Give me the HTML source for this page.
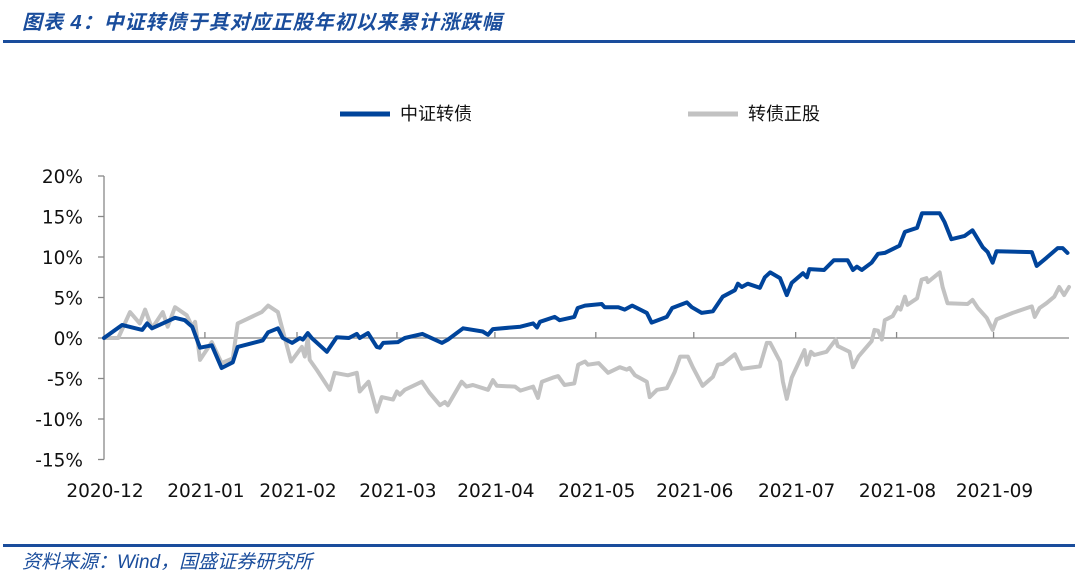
<!DOCTYPE html>
<html><head><meta charset="utf-8">
<style>
html,body{margin:0;padding:0;background:#fff;}
body{width:1080px;height:575px;position:relative;overflow:hidden;font-family:"Liberation Sans","Noto Sans CJK SC",sans-serif;}
#title{position:absolute;left:22px;top:6px;font-size:20px;font-weight:bold;font-style:italic;color:#1a4d9c;letter-spacing:1px;}
#topline{position:absolute;left:3px;top:40px;width:1072px;height:3px;background:#1a4d9c;}
#botline{position:absolute;left:3px;top:544px;width:1072px;height:3px;background:#1a4d9c;}
#source{position:absolute;left:22px;top:547px;font-size:19px;font-style:italic;color:#1a4d9c;}
svg{position:absolute;left:0;top:0;}
</style></head><body>
<div id="title">图表 4：中证转债于其对应正股年初以来累计涨跌幅</div>
<div id="topline"></div>
<svg id="chart" width="1080" height="575"></svg>
<div id="botline"></div>
<div id="source">资料来源：Wind，国盛证券研究所</div>
<script>
const monthLabels=["2020-12","2021-01","2021-02","2021-03","2021-04","2021-05","2021-06","2021-07","2021-08","2021-09"];
const monthDays=[0,20.6,39.4,59.8,79.8,100.4,120.4,141.2,161.8,181.6];
const yTicks=[20,15,10,5,0,-5,-10,-15];
const seriesNames=["中证转债","转债正股"];
const cbDays=[0,3.7,7.8,8.8,9.8,14.5,16.5,18,19.6,22,24,26.3,27.3,32.4,33.5,35.5,36.5,38.4,40,40.6,41.6,42.4,45.5,47.5,50,51.6,52.2,53.9,55.7,56.3,57,60,61.4,65,69,70.2,73.3,77.3,78.4,79.4,85,87.6,88.4,89,92,93,96,96.7,98.2,101.6,102.2,105,106.3,107.8,110.8,111.8,114.9,116,119,120,122,124.3,126.3,128.8,129.4,130.2,131.4,133.9,134.9,136,138,139.4,140.4,142.7,143.5,144,147,149,151.8,152.9,153.7,154.7,156.7,158,159.4,162.4,163.5,166,167,170.6,171.6,173,175.7,177.3,179.4,180.4,181.4,182.2,189.4,190.4,192.4,194.7,195.7,196.7];
const cbVals=[0,1.6,1.0,1.8,1.2,2.5,2.2,1.4,-1.2,-0.9,-3.7,-3.0,-1.1,-0.3,0.7,1.2,0,-0.6,0,-0.2,0.6,0,-1.7,0.1,0,0.5,0,0.6,-1.1,-1.2,-0.6,-0.5,0,0.5,-0.6,-0.2,1.2,0.8,0.4,1.1,1.4,1.8,1.3,2.0,2.6,2.2,2.6,3.7,4.0,4.2,3.8,3.8,3.5,4.0,3.1,1.9,2.6,3.7,4.4,3.8,3.1,3.3,5.1,5.9,6.7,6.3,6.7,6.2,7.5,8.1,7.4,5.3,6.8,8.0,7.5,8.5,8.4,9.6,9.6,8.4,8.8,8.4,9.3,10.4,10.5,11.4,13.1,13.6,15.4,15.4,14.3,12.2,12.6,13.3,11.2,10.6,9.3,10.7,10.6,8.9,9.9,11.1,11.1,10.5];
const stDays=[0,2.9,5.3,7.3,8.4,9.8,12,13,14.5,16.9,18,18.6,19.6,22,24,26.3,27.3,32.2,33.5,35.5,37,38.2,40.4,41,41.6,42,43.5,46.1,47.1,49.8,51.6,52.2,54,55.7,56.7,59,59.8,60.4,61.4,64.9,66.5,68.6,69.6,70.2,73,74,75.3,78.4,79.4,80.2,83.9,85,87.6,88.6,89.4,91.6,92.7,94,96,96.8,98.2,98.8,101,102.9,105.3,106.7,107.3,108.4,110.8,111.4,112.9,114.9,116.5,117.6,119.2,120.2,122.2,124.3,125.3,126.3,128.8,130.2,133.9,135.3,136,138,138.6,139.4,140.4,143,143.5,144.3,145,147.5,149.4,149.8,152.2,152.9,154,156.7,157.3,158,158.8,159.4,161,162,162.6,163.5,164,166,166.9,167.9,168.2,170.6,171.2,172.2,176.3,177.3,178.4,180.2,181.4,182.2,185.5,189.4,190,191,192.4,194,195,196,197];
const stVals=[0,0,3.2,1.8,3.5,1.2,3.2,1.4,3.8,2.8,1.4,2.0,-2.7,-0.5,-3.1,-2.5,1.8,3.2,4.0,3.2,-0.2,-2.9,-1.1,-2.3,0,-2.7,-4.0,-6.4,-4.3,-4.6,-4.3,-6.6,-5.4,-9.1,-7.3,-7.6,-6.6,-7.0,-6.4,-5.4,-6.8,-8.3,-7.9,-8.3,-5.4,-6.0,-5.8,-6.4,-5.2,-5.9,-6.0,-6.5,-6.0,-7.4,-5.4,-4.9,-4.7,-5.8,-5.6,-3.3,-2.9,-3.3,-3.1,-4.3,-3.6,-3.9,-3.7,-4.6,-5.4,-7.3,-6.4,-6.2,-4.2,-2.3,-2.3,-3.6,-5.9,-4.8,-3.3,-3.2,-2.0,-3.8,-3.5,-0.6,-0.6,-2.9,-5.4,-7.5,-4.9,-1.5,-3.3,-1.7,-2.1,-1.7,-0.2,-1.0,-1.7,-3.6,-2.3,-0.4,1.0,0.9,-0.2,2.2,2.7,3.8,3.5,5.1,4.1,4.9,7.2,7.4,6.9,8.1,6.3,4.3,4.2,4.7,3.7,2.5,1.0,2.3,3.1,3.9,2.6,3.7,4.3,5.1,6.3,5.3,6.3];

const svg=document.getElementById('chart');
const NS='http://www.w3.org/2000/svg';
const X0=104,X1=1069,DMAX=197;
const Y0=338,PPU=8.1;
const TF='"DejaVu Sans","Liberation Sans","Noto Sans CJK SC",sans-serif';
function xs(d){return X0+(X1-X0)*d/DMAX;}
function ys(v){return Y0-v*PPU;}
function mk(tag,attrs){const e=document.createElementNS(NS,tag);for(const k in attrs)e.setAttribute(k,attrs[k]);svg.appendChild(e);return e;}

let ya=mk('line',{x1:X0,y1:ys(20),x2:X0,y2:ys(-15),stroke:'#888','stroke-width':1.3});


yTicks.forEach(v=>{
  const t=mk('line',{x1:X0-6,y1:ys(v),x2:X0,y2:ys(v),stroke:'#888','stroke-width':1.3});
  
  
  const l=mk('text',{x:83,y:ys(v)+7,'text-anchor':'end','font-size':18.5,fill:'#111','font-family':TF});
  l.textContent=v+'%';
  
  
});
let xa=mk('line',{x1:X0,y1:ys(0),x2:X1,y2:ys(0),stroke:'#888','stroke-width':1.3});


monthDays.forEach((d,i)=>{
  if(i>0){
    const t=mk('line',{x1:xs(d),y1:ys(0)-6,x2:xs(d),y2:ys(0),stroke:'#888','stroke-width':1.3});
    
    
  }
  const l=mk('text',{x:xs(d)+1,y:497,'text-anchor':'middle','font-size':18.5,fill:'#111','font-family':TF});
  l.textContent=monthLabels[i];
  
  
});
function path(days,vals,color,name){
  let dstr=days.map((d,i)=>(i?'L':'M')+xs(d).toFixed(1)+' '+ys(vals[i]).toFixed(1)).join(' ');
  const p=mk('path',{d:dstr,fill:'none',stroke:color,'stroke-width':4,'stroke-linejoin':'round','stroke-linecap':'round'});
  
  
}
path(stDays,stVals,'#c2c2c2','series-stock-line');
path(cbDays,cbVals,'#00449b','series-cb-index-line');
const legColors=['#00449b','#c2c2c2'];
const legX=[340,688];
seriesNames.forEach((n,i)=>{
  const l=mk('line',{x1:legX[i],y1:114,x2:legX[i]+50,y2:114,stroke:legColors[i],'stroke-width':5});
  
  
  const t=mk('text',{x:legX[i]+60,y:120,'font-size':18,fill:'#111','font-family':TF});
  t.textContent=n;
  
  
});
</script>
</body></html>
